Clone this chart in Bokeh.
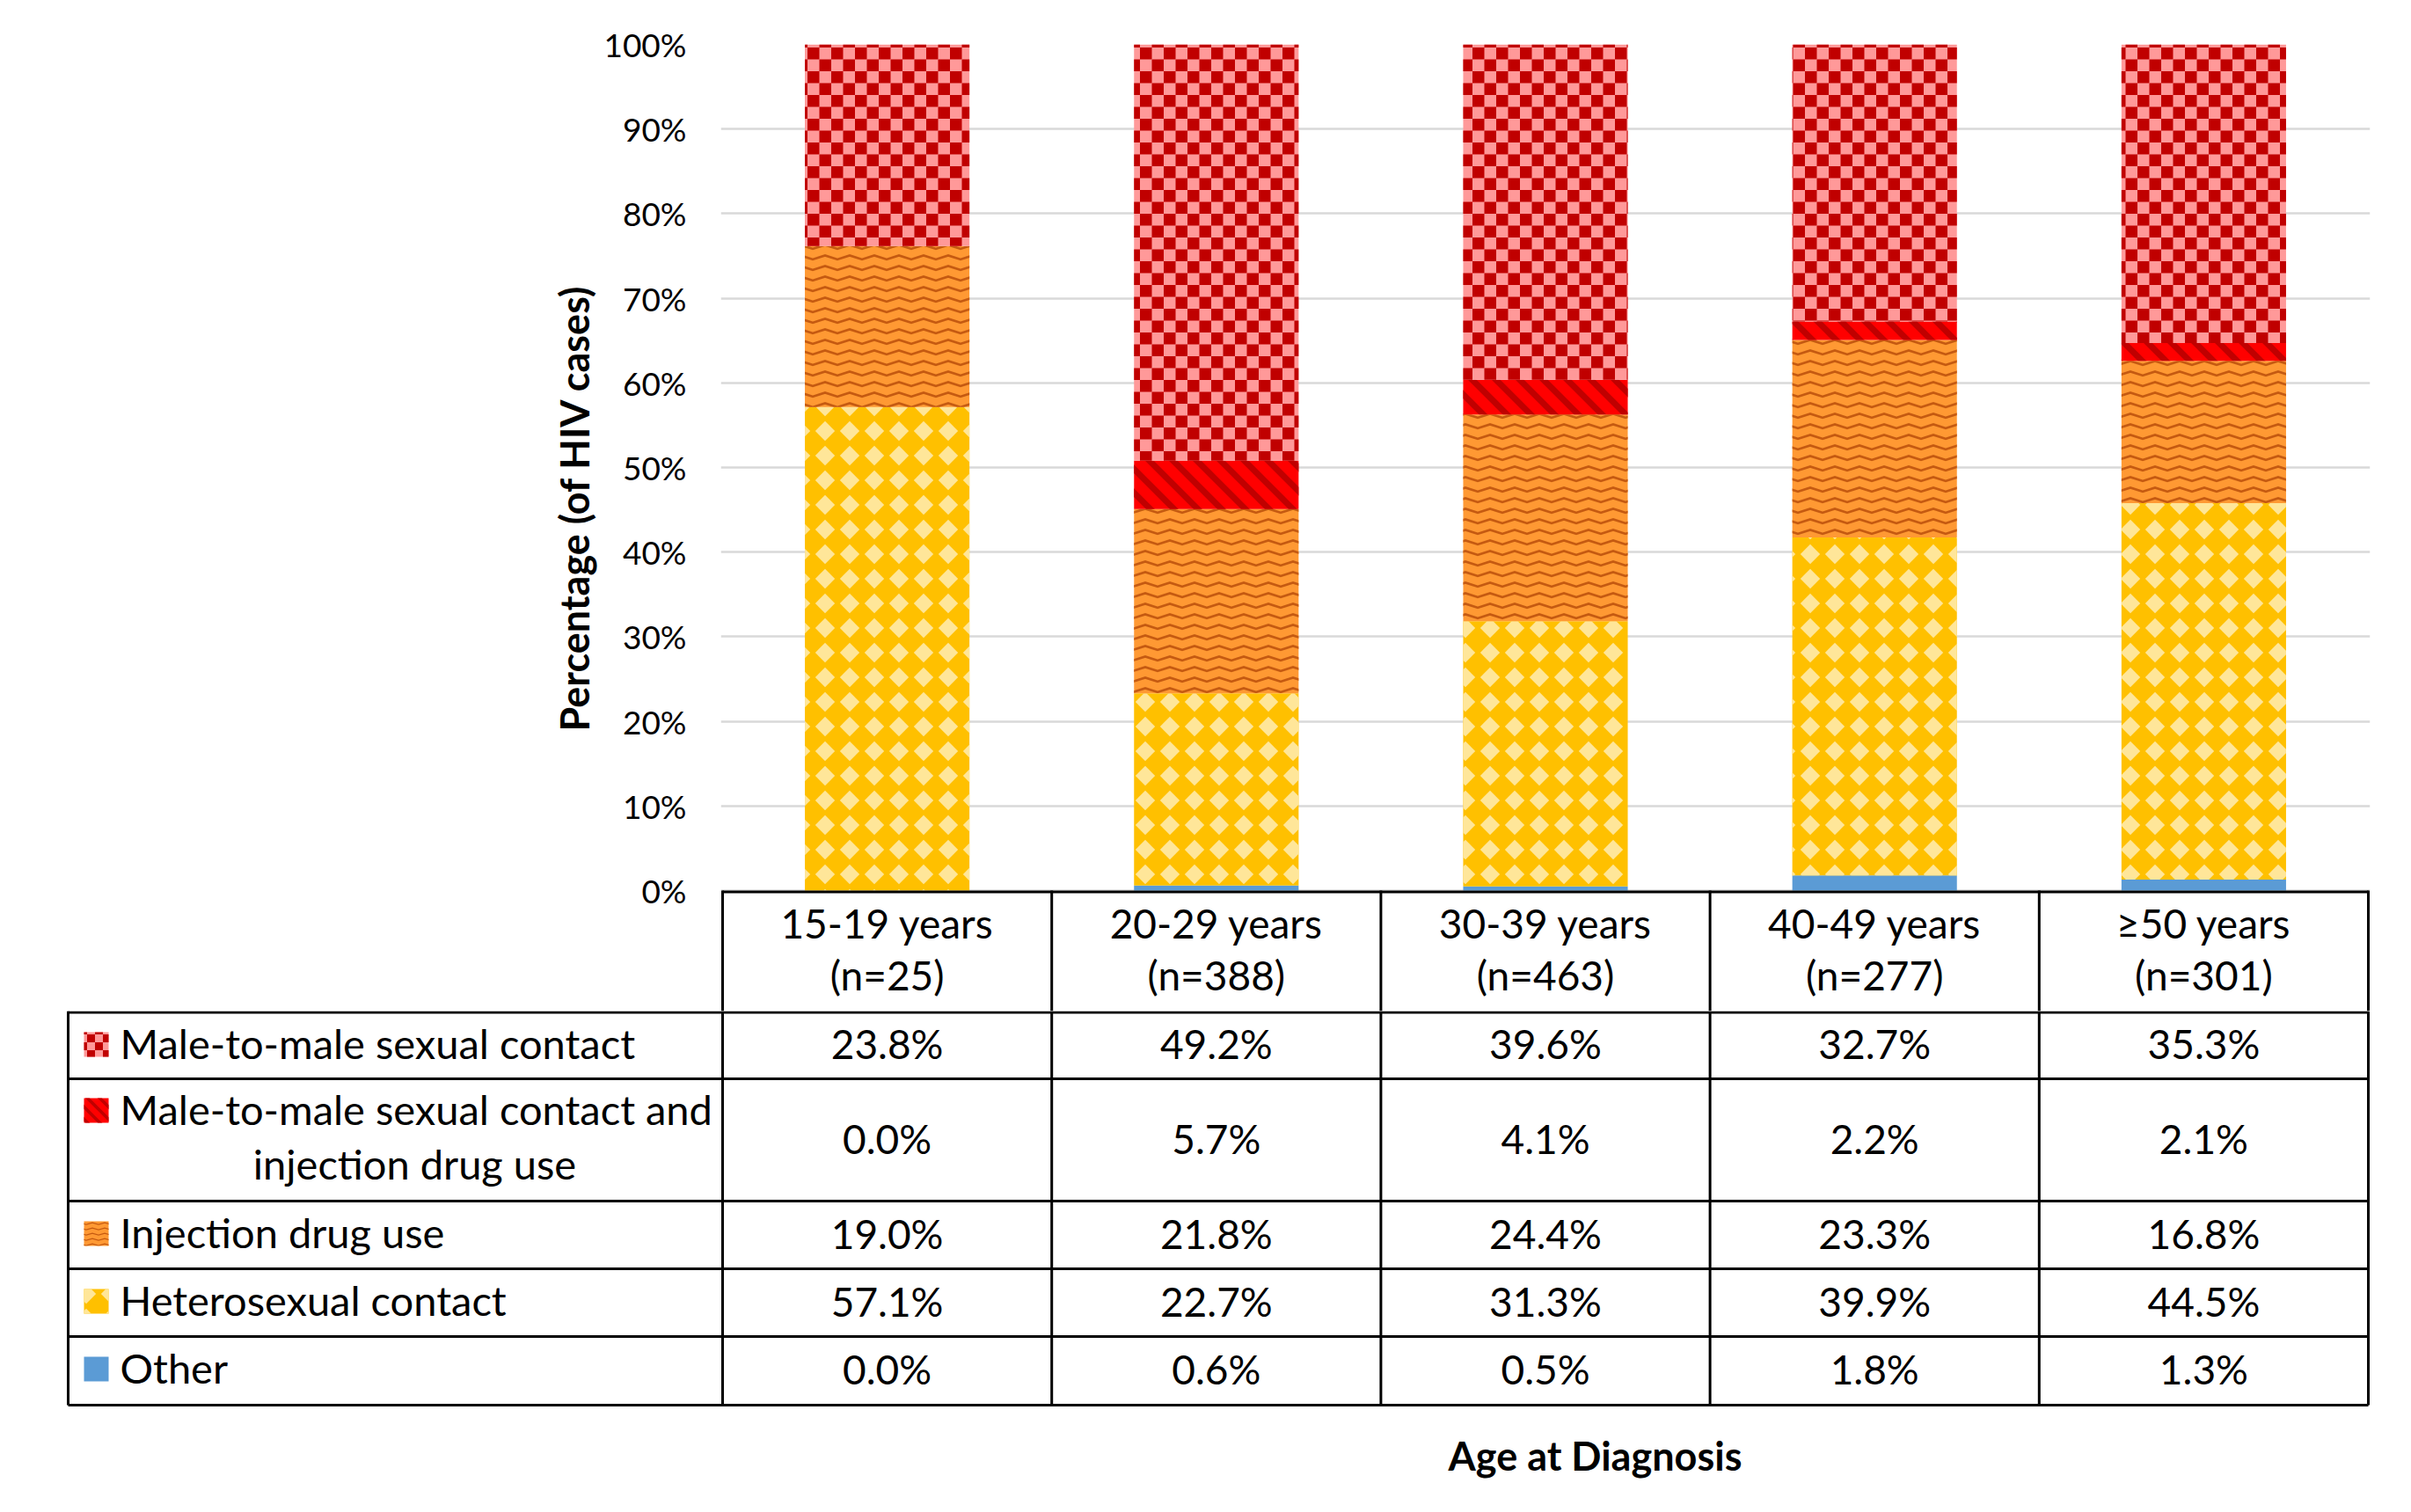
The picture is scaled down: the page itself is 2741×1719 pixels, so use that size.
import numpy as np
from bokeh.plotting import figure
from bokeh.models import (Range1d, FactorRange, ColumnDataSource, CanvasTexture,
                          FixedTicker, PrintfTickFormatter, Title)
from bokeh.transform import dodge
from bokeh.core.properties import value
from bokeh.embed import file_html
from bokeh.resources import INLINE

# ---------------- data ----------------
age_groups = ["15-19 years", "20-29 years", "30-39 years", "40-49 years", "\u226550 years"]
n_cases = [25, 388, 463, 277, 301]
other = [0.0, 0.6, 0.5, 1.8, 1.3]
hetero = [57.1, 22.7, 31.3, 39.9, 44.5]
idu = [19.0, 21.8, 24.4, 23.3, 16.8]
mtm_idu = [0.0, 5.7, 4.1, 2.2, 2.1]
mtm = [23.8, 49.2, 39.6, 32.7, 35.3]
y_ticks = [0, 10, 20, 30, 40, 50, 60, 70, 80, 90, 100]

series_vals = [other, hetero, idu, mtm_idu, mtm]

FONT = "Lato"

# ---------------- textures (tile size taken from hatch_scale) ----------------
checker = CanvasTexture(code="""
const s = Math.max(scale, weight);
ctx.canvas.width = s; ctx.canvas.height = s;
const h = s/2;
ctx.fillStyle = '#C00000';
ctx.fillRect(0, 0, h, h);
ctx.fillRect(h, h, h, h);
""")
stripes = CanvasTexture(code="""
const s = Math.max(scale, weight);
ctx.canvas.width = s; ctx.canvas.height = s;
ctx.strokeStyle = '#C00000';
ctx.lineWidth = 0.26*s;
ctx.beginPath();
for (const o of [-s, 0, s]) {
  ctx.moveTo(o - s*0.2, -s*0.2);
  ctx.lineTo(o + s*1.2, s*1.2);
}
ctx.stroke();
""")
waves = CanvasTexture(code="""
const s = Math.max(scale, weight);
const hh = Math.round(0.42*s);
ctx.canvas.width = s; ctx.canvas.height = hh;
ctx.strokeStyle = '#C55A11';
ctx.lineWidth = 0.095*s;
ctx.beginPath();
ctx.moveTo(-2, 0.62*hh);
ctx.lineTo(0.5*s, 0.2*hh);
ctx.lineTo(s + 2, 0.62*hh);
ctx.stroke();
""")
diamonds = CanvasTexture(code="""
const s = Math.max(scale, weight);
ctx.canvas.width = s; ctx.canvas.height = s;
const c = s/2, r = s*0.40;
ctx.fillStyle = '#FFE699';
ctx.beginPath();
ctx.moveTo(c, c - r); ctx.lineTo(c + r, c); ctx.lineTo(c, c + r); ctx.lineTo(c - r, c);
ctx.closePath();
ctx.fill();
""")
extra = {"checker": checker, "stripes": stripes, "waves": waves, "diamonds": diamonds}

styles = [
    dict(fill_color="#5B9BD5", hatch_pattern=" "),
    dict(fill_color="#FFC000", hatch_pattern=value("diamonds"), hatch_scale=28),
    dict(fill_color="#FF9933", hatch_pattern=value("waves"), hatch_scale=28),
    dict(fill_color="#FF0000", hatch_pattern=value("stripes"), hatch_scale=27),
    dict(fill_color="#FF9999", hatch_pattern=value("checker"), hatch_scale=27),
]

# ---------------- chart (with header row of the table) ----------------
PX_PER_UNIT = 9.62          # layout: (plot bottom - plot top) / 100
HEADER_H = 137              # layout: header row height in px
totals = np.sum(np.array(series_vals), axis=0)
shares = [np.array(v) / totals * 100.0 for v in series_vals]
data = {"age": age_groups, "n_lbl": [f"(n={n})" for n in n_cases]}
cum = np.zeros(len(age_groups))
for i, s in enumerate(shares):
    data[f"b{i}"] = cum.copy()
    cum = cum + s
    data[f"t{i}"] = cum.copy()
source = ColumnDataSource(data)

y_bottom = -HEADER_H / PX_PER_UNIT
p = figure(x_range=FactorRange(factors=age_groups, range_padding=4 / 1871),
           y_range=Range1d(y_bottom, 100),
           width=2741, height=1149, output_backend="svg", toolbar_location=None,
           x_axis_location=None, min_border_left=819, min_border_right=47,
           min_border_top=50, min_border_bottom=0)
p.outline_line_color = None
p.xgrid.visible = False
p.ygrid.grid_line_color = "#D9D9D9"
p.ygrid.grid_line_width = 2.5
p.ygrid.ticker = FixedTicker(ticks=y_ticks)

for i, st in enumerate(styles):
    p.vbar(x="age", bottom=f"b{i}", top=f"t{i}", width=0.5, source=source,
           line_color=None, hatch_extra=extra, **st)

yax = p.yaxis[0]
yax.ticker = FixedTicker(ticks=y_ticks)
yax.formatter = PrintfTickFormatter(format="%d%%")
yax.axis_line_color = None
yax.major_tick_line_color = None
yax.minor_tick_line_color = None
yax.major_tick_out = 0
yax.major_tick_in = 0
yax.major_label_standoff = 39
yax.major_label_text_font = FONT
yax.major_label_text_font_size = "37px"
yax.major_label_text_color = "#000000"

p.add_layout(Title(text="Percentage (of HIV cases)", align="left", offset=318,
                   standoff=8, text_font=FONT, text_font_style="bold",
                   text_font_size="45px", text_color="#000000"), "left")

# header row lines
edge_src = ColumnDataSource(dict(first=[age_groups[0]], last=[age_groups[-1]]))
p.segment(x0=dodge("first", -0.5, range=p.x_range), x1=dodge("last", 0.5, range=p.x_range),
          y0=-1.5 / PX_PER_UNIT, y1=-1.5 / PX_PER_UNIT, source=edge_src,
          line_color="#000000", line_width=3)
p.segment(x0=dodge("age", -0.5, range=p.x_range), x1=dodge("age", -0.5, range=p.x_range),
          y0=0, y1=y_bottom, source=source, line_color="#000000", line_width=3)
p.segment(x0=dodge("last", 0.5, range=p.x_range), x1=dodge("last", 0.5, range=p.x_range),
          y0=0, y1=y_bottom, source=edge_src, line_color="#000000", line_width=3)

hdr = dict(text_font=value(FONT), text_font_size="46px", text_color="#000000",
           text_baseline="middle", text_align="center")
p.text(x="age", y=-37 / PX_PER_UNIT, text="age", source=source, **hdr)
p.text(x="age", y=-96 / PX_PER_UNIT, text="n_lbl", source=source, **hdr)

# ---------------- table body ----------------
table_left = 77
label_right = 821
col_w = 374.2
row_edges = [1149, 1226, 1365, 1442, 1519, 1597]
n_cols = len(age_groups)
table_right = label_right + n_cols * col_w
col_centers = [label_right + col_w * (i + 0.5) for i in range(n_cols)]

t = figure(x_range=Range1d(0, 2741), y_range=Range1d(1719, 1149),
           width=2741, height=570, output_backend="svg", toolbar_location=None,
           x_axis_location=None, y_axis_location=None, min_border=0)
t.outline_line_color = None
t.grid.visible = False

hy = [row_edges[0] + 1.5] + row_edges[1:]
t.segment(x0=[table_left] * len(hy), x1=[table_right] * len(hy), y0=hy, y1=hy,
          line_color="#000000", line_width=3)
vx = [table_left] + [label_right + col_w * i for i in range(n_cols + 1)]
t.segment(x0=vx, x1=vx, y0=[row_edges[0]] * len(vx), y1=[row_edges[-1]] * len(vx),
          line_color="#000000", line_width=3)

txt = dict(text_font=value(FONT), text_font_size="46px", text_color="#000000",
           text_baseline="middle")

# rows (top to bottom): mtm, mtm_idu, idu, hetero, other
row_order = [4, 3, 2, 1, 0]
row_centers = [(row_edges[k] + row_edges[k + 1]) / 2 - 2 for k in range(5)]
first_line_y = [1185, 1260, 1400, 1477, 1554]
for r, si in enumerate(row_order):
    t.text(x=col_centers, y=[row_centers[r]] * n_cols,
           text=[f"{v:.1f}%" for v in series_vals[si]], text_align="center", **txt)

label_lines = ["Male-to-male sexual contact", "Male-to-male sexual contact and",
               "Injection drug use", "Heterosexual contact", "Other"]
t.text(x=[136] * 5, y=first_line_y, text=label_lines, text_align="left",
       text_font=value(FONT), text_font_size="47px", text_color="#000000",
       text_baseline="middle")
t.text(x=[471], y=[1322], text=["injection drug use"], text_align="center",
       text_font=value(FONT), text_font_size="47px", text_color="#000000",
       text_baseline="middle")

# legend swatches
sw_styles = [
    dict(fill_color="#FF9999", hatch_pattern=value("checker"), hatch_scale=18),
    dict(fill_color="#FF0000", hatch_pattern=value("stripes"), hatch_scale=14),
    dict(fill_color="#FF9933", hatch_pattern=value("waves"), hatch_scale=14),
    dict(fill_color="#FFC000", hatch_pattern=value("diamonds"), hatch_scale=28),
    dict(fill_color="#5B9BD5", hatch_pattern=" "),
]
swatch_y = [1187, 1262, 1402, 1479, 1556]
for r, st in enumerate(sw_styles):
    t.rect(x=[109], y=[swatch_y[r]], width=28, height=28, line_color=None,
           hatch_extra=extra, **st)

t.text(x=[1813], y=[1654], text=["Age at Diagnosis"], text_align="center",
       text_font=value(FONT), text_font_size="45px", text_font_style="bold",
       text_color="#000000", text_baseline="middle")

open("out.html", "w").write(file_html([p, t], INLINE))
